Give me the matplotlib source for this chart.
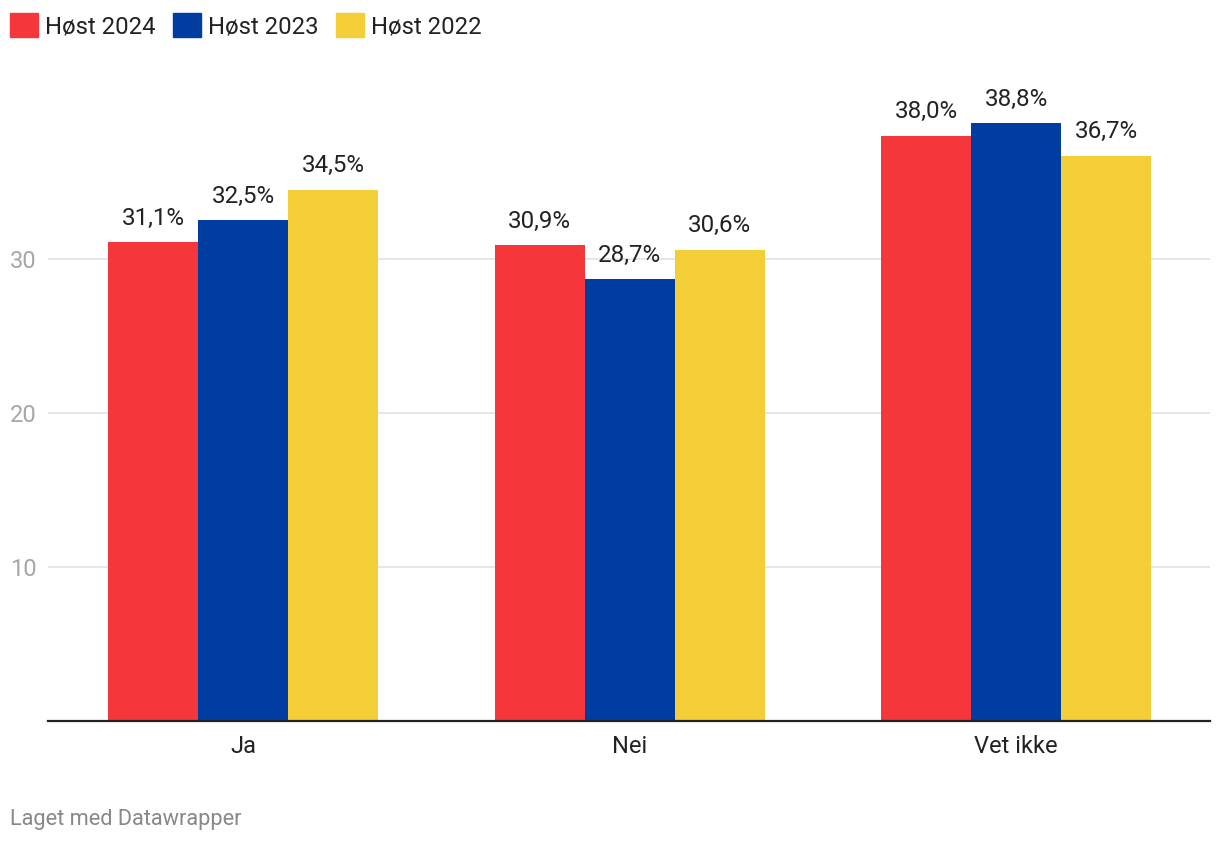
import matplotlib.pyplot as plt
import matplotlib.patches as mpatches
import numpy as np

plt.rcParams['font.family'] = ['Roboto', 'DejaVu Sans']

categories = ['Ja', 'Nei', 'Vet ikke']
series = ['Høst 2024', 'Høst 2023', 'Høst 2022']
values = {
    'Høst 2024': [31.1, 30.9, 38.0],
    'Høst 2023': [32.5, 28.7, 38.8],
    'Høst 2022': [34.5, 30.6, 36.7],
}
colors = ['#f5373b', '#003da0', '#f4ce37']
yticks = [10, 20, 30]

W, H = 1220, 844
fig = plt.figure(figsize=(W / 100, H / 100), dpi=100)
ax = fig.add_axes([48 / W, (H - 721) / H, (1210 - 48) / W, (721 - 60) / H])

x = np.arange(len(categories))
bw = 0.2329
for i, (name, col) in enumerate(zip(series, colors)):
    xs = x + (i - 1) * bw
    bars = ax.bar(xs, values[name], width=bw, color=col, zorder=3)
    for b, v in zip(bars, values[name]):
        ax.annotate('{:.1f}%'.format(v).replace('.', ','),
                    (b.get_x() + b.get_width() / 2, v),
                    xytext=(0, 9), textcoords='offset points',
                    ha='center', va='bottom', fontsize=17.4, color='#222222')

ax.set_xlim(-0.505, 2.502)
ax.set_ylim(0, (721 - 60) / 15.4)
ax.set_yticks(yticks)
ax.set_yticklabels([str(t) for t in yticks])
ax.set_xticks(x)
ax.set_xticklabels(categories)
ax.grid(axis='y', color='#e3e3e3', linewidth=1.2, zorder=0)
ax.tick_params(axis='y', length=0, pad=8, labelsize=17, labelcolor='#a6a6a6')
ax.tick_params(axis='x', length=0, pad=10, labelsize=17, labelcolor='#222222')
for s in ['top', 'right', 'left']:
    ax.spines[s].set_visible(False)
ax.spines['bottom'].set_color('#222222')
ax.spines['bottom'].set_linewidth(1.6)
ax.spines['bottom'].set_zorder(4)

handles = [mpatches.Patch(color=c, label=n) for n, c in zip(series, colors)]
fig.legend(handles=handles, loc='upper left', bbox_to_anchor=(10 / W, 1 - 13 / H),
           ncol=3, frameon=False, fontsize=17.2, handlelength=1.17, handleheight=1.17,
           handletextpad=0.3, columnspacing=0.72, borderpad=0, borderaxespad=0,
           labelcolor='#222222')

fig.text(10 / W, 1 - 819 / H, 'Laget med Datawrapper', fontsize=15.7,
         color='#888888', va='center', ha='left')

fig.savefig('out.png', dpi=100)
